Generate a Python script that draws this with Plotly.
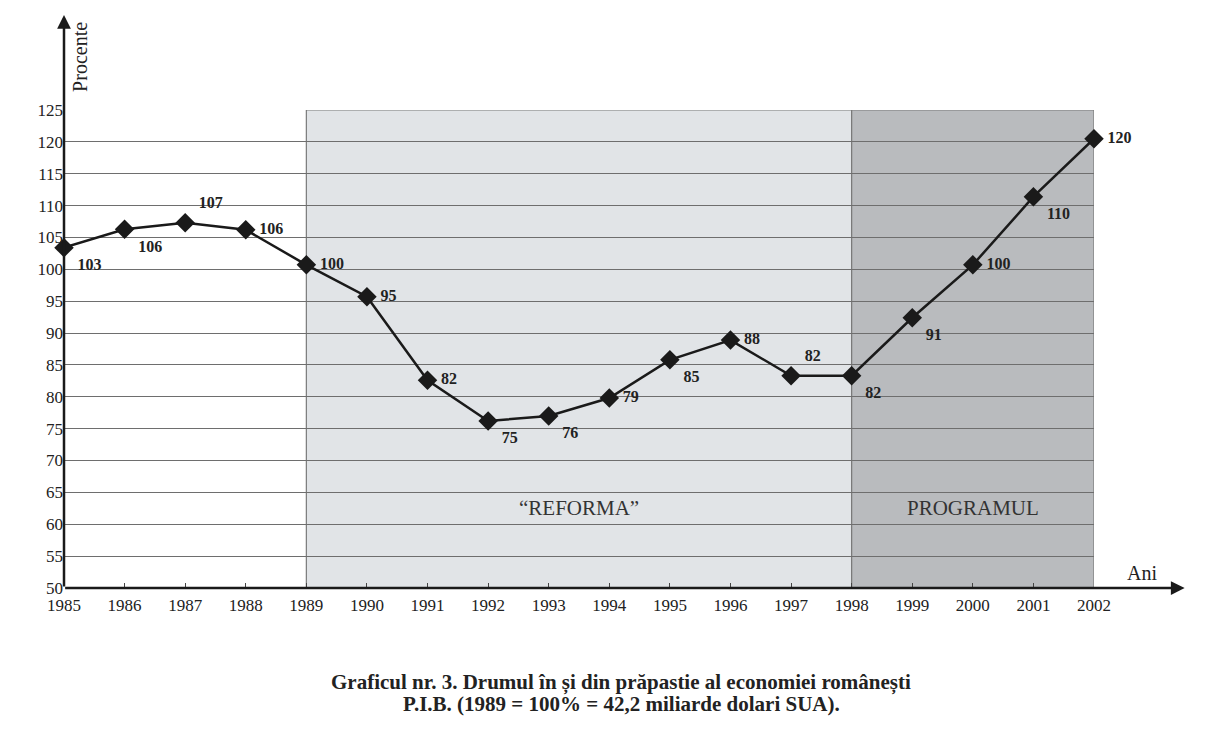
import plotly.graph_objects as go

years = list(range(1985, 2003))
values = [103.4, 106.3, 107.3, 106.2, 100.7, 95.7, 82.6, 76.2, 77.0, 79.8,
          85.8, 88.9, 83.3, 83.3, 92.4, 100.7, 111.4, 120.5]
labels = ["103", "106", "107", "106", "100", "95", "82", "75", "76", "79",
          "85", "88", "82", "82", "91", "100", "110", "120"]
label_pos = ["bottom right", "bottom right", "top right", "middle right", "middle right",
             "middle right", "middle right", "bottom right", "bottom right", "middle right",
             "bottom right", "middle right", "top right", "bottom right", "bottom right",
             "middle right", "bottom right", "middle right"]
y_ticks = list(range(50, 130, 5))
periods = [(1989, 1998, "“REFORMA”", "#e1e4e7"), (1998, 2002, "PROGRAMUL", "#b9bbbe")]
period_label_y = 62.5
caption_lines = ["Graficul nr. 3. Drumul în și din prăpastie al economiei românești",
                 "P.I.B. (1989 = 100% = 42,2 miliarde dolari SUA)."]

SERIF = "Liberation Serif, Times New Roman, serif"

fig = go.Figure()

shapes = []
annotations = []
for x0, x1, name, col in periods:
    shapes.append(dict(type="rect", xref="x", yref="y", x0=x0, x1=x1, y0=50, y1=125,
                       fillcolor=col, line=dict(color="#7a7a7a", width=1.2), layer="below"))
    annotations.append(dict(x=(x0 + x1) / 2, y=period_label_y, xref="x", yref="y",
                            text=name, showarrow=False,
                            font=dict(family=SERIF, size=21, color="#333333")))

fig.add_trace(go.Scatter(
    x=years, y=values, mode="lines+markers+text",
    line=dict(color="#1a1a1a", width=2.5),
    marker=dict(symbol="diamond", size=15, color="#1a1a1a"),
    text=["<b>\u2009" + t + "</b>" for t in labels],
    textposition=label_pos,
    textfont=dict(family=SERIF, size=16, color="#222222"),
    cliponaxis=False, showlegend=False, hoverinfo="skip"))

# axis arrows
annotations.append(dict(x=1.088, y=0, xref="paper", yref="paper", ax=-1121, ay=0,
                        axref="pixel", ayref="pixel", text="", showarrow=True,
                        arrowhead=2, arrowsize=1.1, arrowwidth=2.5, arrowcolor="#1a1a1a"))
annotations.append(dict(x=0, y=1.199, xref="paper", yref="paper", ax=0, ay=573,
                        axref="pixel", ayref="pixel", text="", showarrow=True,
                        arrowhead=2, arrowsize=1.1, arrowwidth=2.5, arrowcolor="#1a1a1a"))
annotations.append(dict(x=0.0155, y=1.111, xref="paper", yref="paper", text="Procente",
                        textangle=-90, showarrow=False, xanchor="center", yanchor="middle",
                        font=dict(family=SERIF, size=20, color="#222222")))
annotations.append(dict(x=1.03, y=0.004, xref="paper", yref="paper", text="Ani",
                        showarrow=False, xanchor="left", yanchor="bottom",
                        font=dict(family=SERIF, size=20, color="#222222")))
for i, line in enumerate(caption_lines):
    annotations.append(dict(x=0.541, y=-0.197 - 0.046 * i, xref="paper", yref="paper",
                            text="<b>" + line + "</b>",
                            showarrow=False, xanchor="center", yanchor="middle",
                            font=dict(family=SERIF, size=21, color="#222222")))

fig.update_layout(
    width=1208, height=725,
    margin=dict(l=56, r=122, t=102, b=145),
    paper_bgcolor="white", plot_bgcolor="white",
    shapes=shapes, annotations=annotations,
    xaxis=dict(range=[1985, 2002], tickmode="array", tickvals=years,
               ticktext=[str(y) for y in years], showgrid=False, zeroline=False,
               showline=False, ticks="inside", ticklen=5, tickcolor="#444",
               ticklabelstandoff=5,
               tickfont=dict(family=SERIF, size=17, color="#222222")),
    yaxis=dict(range=[50, 125], tickmode="array", tickvals=y_ticks,
               ticktext=[str(v) for v in y_ticks], showgrid=True, gridcolor="#6e6e6e",
               gridwidth=1, zeroline=False, showline=False, ticks="",
               tickfont=dict(family=SERIF, size=17, color="#222222")),
)

fig.write_html("out.html")
